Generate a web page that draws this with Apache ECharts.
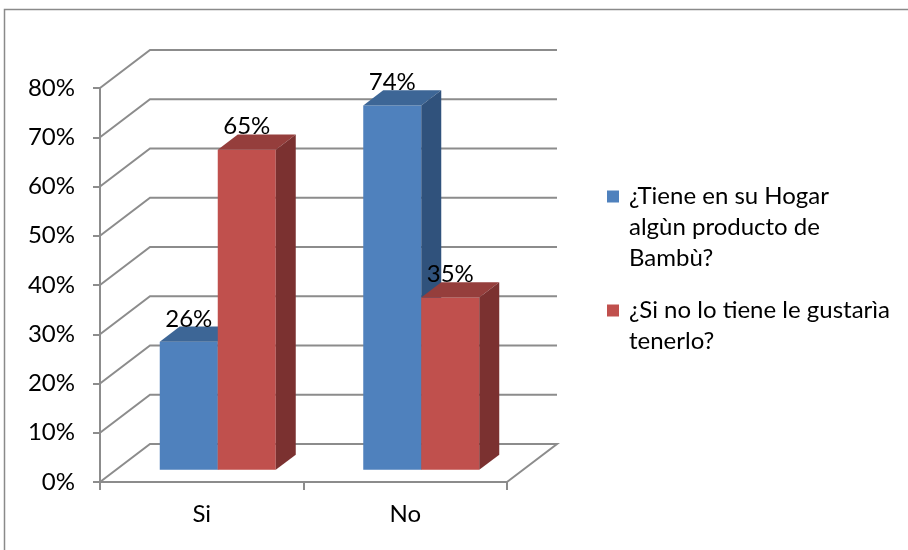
<!DOCTYPE html>
<html>
<head>
<meta charset="utf-8">
<script src="https://cdn.jsdelivr.net/npm/echarts@6/dist/echarts.min.js"></script>
<style>
  html, body { margin: 0; padding: 0; background: #ffffff; }
  #chart { width: 908px; height: 550px; }
</style>
</head>
<body>
<div id="chart"></div>
<script>
// Survey answers, shown as fractions of respondents
const categories = ['Si', 'No'];
const tieneValues = [0.26, 0.74];
const gustariaValues = [0.65, 0.35];
const seriesNames = ['¿Tiene en su Hogar algùn producto de Bambù?', '¿Si no lo tiene le gustarìa tenerlo?'];
const legendLines = [
  ['¿Tiene en su Hogar', 'algùn producto de', 'Bambù?'],
  ['¿Si no lo tiene le gustarìa', 'tenerlo?']
];
const yTicks = [0, 0.1, 0.2, 0.3, 0.4, 0.5, 0.6, 0.7, 0.8];

const FONT = 'Lato';
const FONT_SIZE = 24;
const GRID_COLOR = '#8c8c8c';

// Perspective: full depth of the floor, where the bars start in it, and how deep they are
const DEPTH = [50, -38];
const BAR_START = 0.32;
const BAR_DEPTH = 0.4;
const BAR_RATIO = 0.285;

const faces = [
  { front: '#4f81bd', top: '#3d6696', side: '#30527c' },
  { front: '#c0504d', top: '#953e3c', side: '#7b3130' }
];

function pct(v) { return Math.round(v * 100) + '%'; }

// Back wall and floor lines for every value tick
function renderWalls(params, api) {
  const cs = params.coordSys;
  const v = api.value(1);
  const y = api.coord([0, v])[1];
  const L = cs.x, R = cs.x + cs.width;
  const pts = [[L, y], [L + DEPTH[0], y + DEPTH[1]], [R + DEPTH[0], y + DEPTH[1]]];
  if (v === 0) pts.push([R, y]);
  return {
    type: 'polyline',
    shape: { points: pts },
    style: { stroke: GRID_COLOR, lineWidth: 2, fill: null },
    silent: true
  };
}

function makeBarRenderer(seriesIdx) {
  return function (params, api) {
    const cat = api.value(0);
    const val = api.value(1);
    const base = api.coord([cat, 0]);
    const top = api.coord([cat, val]);
    const band = api.size([1, 0])[0];
    const bw = band * BAR_RATIO;
    const fx = DEPTH[0] * BAR_START, fy = DEPTH[1] * BAR_START;
    const dx = DEPTH[0] * BAR_DEPTH, dy = DEPTH[1] * BAR_DEPTH;
    const x0 = base[0] + fx + (seriesIdx === 0 ? -bw : 0);
    const x1 = x0 + bw;
    const ty = top[1] + fy;
    const by = base[1] + fy;
    const c = faces[seriesIdx];
    return {
      type: 'group',
      children: [
        { type: 'rect', shape: { x: x0, y: ty, width: bw, height: by - ty }, style: { fill: c.front } },
        { type: 'polygon', shape: { points: [[x0, ty], [x1, ty], [x1 + dx, ty + dy], [x0 + dx, ty + dy]] }, style: { fill: c.top } },
        { type: 'polygon', shape: { points: [[x1, ty], [x1 + dx, ty + dy], [x1 + dx, by + dy], [x1, by]] }, style: { fill: c.side } },
        {
          type: 'text',
          style: {
            text: pct(val), x: x0 + bw / 2, y: ty - 23,
            align: 'center', verticalAlign: 'middle',
            font: FONT_SIZE + 'px ' + FONT, fill: '#000000'
          }
        }
      ]
    };
  };
}

// The legend text is centred on its marker; leading blank lines put the first line beside it
function legendFor(idx, top) {
  const lines = legendLines[idx];
  const padded = new Array(lines.length - 1).fill('').concat(lines).join('\n');
  return {
    data: [seriesNames[idx]],
    left: 607,
    top: top,
    padding: 0,
    orient: 'vertical',
    itemWidth: 12,
    itemHeight: 12,
    icon: 'rect',
    selectedMode: false,
    formatter: function () { return padded; },
    textStyle: {
      fontFamily: FONT, fontSize: FONT_SIZE, color: '#000000',
      lineHeight: 31, padding: [0, 0, 0, 5]
    }
  };
}

const chart = echarts.init(document.getElementById('chart'), null, { renderer: 'canvas' });
chart.setOption({
  animation: false,
  backgroundColor: '#ffffff',
  graphic: [{
    type: 'rect',
    shape: { x: 4.5, y: 9.5, width: 1200, height: 1200 },
    style: { fill: null, stroke: '#8a8a8a', lineWidth: 1.5 },
    silent: true
  }],
  legend: [legendFor(0, 119), legendFor(1, 264)],
  grid: { left: 100, right: 401, top: 88, bottom: 68 },
  xAxis: {
    type: 'category',
    data: categories,
    axisLine: { lineStyle: { color: GRID_COLOR, width: 2 } },
    axisTick: { show: true, length: 8, lineStyle: { color: GRID_COLOR, width: 2 } },
    axisLabel: { fontFamily: FONT, fontSize: FONT_SIZE, color: '#000000', margin: 20 },
    splitLine: { show: false }
  },
  yAxis: {
    type: 'value',
    min: 0, max: 0.8, interval: 0.1,
    axisLine: { show: true, lineStyle: { color: GRID_COLOR, width: 2 } },
    axisTick: { show: true, length: 7, lineStyle: { color: GRID_COLOR, width: 2 } },
    axisLabel: { fontFamily: FONT, fontSize: FONT_SIZE, color: '#000000', margin: 25, formatter: pct },
    splitLine: { show: false }
  },
  series: [
    {
      type: 'custom', name: 'walls', silent: true,
      itemStyle: { color: GRID_COLOR },
      renderItem: renderWalls,
      data: yTicks.map(function (t) { return [0, t]; })
    },
    {
      type: 'custom', name: seriesNames[0],
      itemStyle: { color: faces[0].front },
      renderItem: makeBarRenderer(0),
      data: tieneValues.map(function (v, i) { return [i, v]; })
    },
    {
      type: 'custom', name: seriesNames[1],
      itemStyle: { color: faces[1].front },
      renderItem: makeBarRenderer(1),
      data: gustariaValues.map(function (v, i) { return [i, v]; })
    }
  ]
});
</script>
</body>
</html>
